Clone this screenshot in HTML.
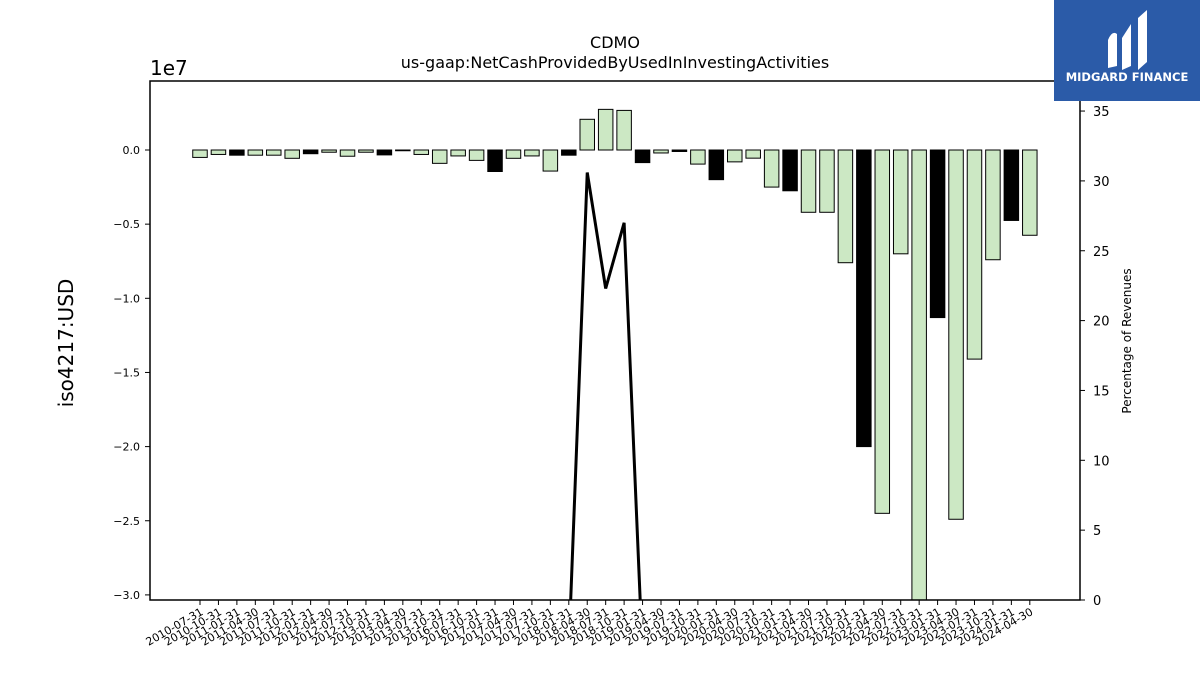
<!DOCTYPE html>
<html><head><meta charset="utf-8"><style>
body{margin:0;background:#fff;font-family:"Liberation Sans","DejaVu Sans",sans-serif}
svg text{font-family:"DejaVu Sans","Liberation Sans",sans-serif}
</style></head><body>
<svg id="c" width="1200" height="675" viewBox="0 0 1200 675">
<defs><clipPath id="pc"><rect x="150" y="81" width="930" height="519"/></clipPath></defs>
<text x="615" y="48" font-size="16" text-anchor="middle">CDMO</text>
<text x="615" y="68" font-size="16" text-anchor="middle">us-gaap:NetCashProvidedByUsedInInvestingActivities</text>
<text x="150" y="75" font-size="20">1e7</text>
<text transform="translate(73,343) rotate(-90)" font-size="20" text-anchor="middle">iso4217:USD</text>
<text transform="translate(1131,341) rotate(-90)" font-size="12" text-anchor="middle">Percentage of Revenues</text>
<g id="bars" clip-path="url(#pc)"></g>
<g id="line" clip-path="url(#pc)"></g>
<g id="axes"></g>
<rect x="150" y="81" width="930" height="519" fill="none" stroke="#000" stroke-width="1.5"/>
<g>
<rect x="1054" y="0" width="146" height="101" fill="#2b5ba8"/>
<path d="M1108 68 L1108 40 Q1112 30 1117 34 L1117 66 Z M1122 70 L1122 38 L1131 24 L1131 66 Z M1138 70 L1138 18 L1147 10 L1147 62 Z" fill="#fff"/>
<text x="1127" y="81" font-size="11.5" font-weight="bold" fill="#fff" text-anchor="middle">MIDGARD FINANCE</text>
</g>
</svg>
<script>
const categories=["2010-07-31","2010-10-31","2011-01-31","2011-04-30","2011-07-31","2011-10-31","2012-01-31","2012-04-30","2012-07-31","2012-10-31","2013-01-31","2013-04-30","2013-07-31","2013-10-31","2016-07-31","2016-10-31","2017-01-31","2017-04-30","2017-07-31","2017-10-31","2018-01-31","2018-04-30","2018-07-31","2018-10-31","2019-01-31","2019-04-30","2019-07-31","2019-10-31","2020-01-31","2020-04-30","2020-07-31","2020-10-31","2021-01-31","2021-04-30","2021-07-31","2021-10-31","2022-01-31","2022-04-30","2022-07-31","2022-10-31","2023-01-31","2023-04-30","2023-07-31","2023-10-31","2024-01-31","2024-04-30"];
const cashValues=[-0.5e6,-0.3e6,-0.35e6,-0.35e6,-0.35e6,-0.56e6,-0.25e6,-0.15e6,-0.42e6,-0.15e6,-0.33e6,-0.05e6,-0.3e6,-0.9e6,-0.4e6,-0.7e6,-1.45e6,-0.56e6,-0.4e6,-1.42e6,-0.35e6,2.07e6,2.74e6,2.67e6,-0.85e6,-0.2e6,-0.1e6,-0.95e6,-2.0e6,-0.8e6,-0.55e6,-2.5e6,-2.75e6,-4.2e6,-4.2e6,-7.6e6,-20.0e6,-24.5e6,-7.0e6,-35e6,-11.3e6,-24.9e6,-14.1e6,-7.4e6,-4.75e6,-5.75e6];
const highlighted=[0,0,1,0,0,0,1,0,0,0,1,1,0,0,0,0,1,0,0,0,1,0,0,0,1,0,1,0,1,0,0,0,1,0,0,0,1,0,0,0,1,0,0,0,1,0];
const pctValues=[null,null,null,null,null,null,null,null,null,null,null,null,null,null,null,null,null,null,null,null,-3.5,30.6,22.3,27.0,-4,null,null,null,null,null,null,null,null,null,null,null,null,null,null,null,null,null,null,null,null,null];
const yTicks=[0,-0.5,-1.0,-1.5,-2.0,-2.5,-3.0];
const yTickLabels=["0.0","\u22120.5","\u22121.0","\u22121.5","\u22122.0","\u22122.5","\u22123.0"];
const rTicks=[0,5,10,15,20,25,30,35];

const NS="http://www.w3.org/2000/svg";
const X0=200,DX=18.44,BW=14.5;
const xs=i=>X0+DX*i;
const yL=v=>150-(v/1e7)*148.3;
const yR=v=>600-v*13.97;
function mk(t,a,p){const e=document.createElementNS(NS,t);for(const k in a)e.setAttribute(k,a[k]);p.appendChild(e);return e;}
const gb=document.getElementById('bars'),gl=document.getElementById('line'),ga=document.getElementById('axes');
cashValues.forEach((v,i)=>{
 const y0=yL(0),y1=yL(v);
 const r=mk('rect',{x:xs(i)-BW/2,y:Math.min(y0,y1),width:BW,height:Math.max(0.5,Math.abs(y1-y0)),fill:highlighted[i]?'#000':'#cce8c4',stroke:'#000','stroke-width':1},gb);
 
 
});
let d='';pctValues.forEach((v,i)=>{if(v===null)return;d+=(d?'L':'M')+xs(i)+' '+yR(v)+' ';});
const ln=mk('path',{d:d,fill:'none',stroke:'#000','stroke-width':3},gl);


yTicks.forEach((t,i)=>{
 const y=yL(t*1e7);
 mk('line',{x1:145,x2:150,y1:y,y2:y,stroke:'#000'},ga);
 const tx=mk('text',{x:140,y:y+4,'font-size':11,'text-anchor':'end'},ga);tx.textContent=yTickLabels[i];
 
 
});
rTicks.forEach(t=>{
 const y=yR(t);
 mk('line',{x1:1080,x2:1085,y1:y,y2:y,stroke:'#000'},ga);
 const tx=mk('text',{x:1093,y:y+5,'font-size':13},ga);tx.textContent=t;
 
 
});
categories.forEach((c,i)=>{
 const x=xs(i);
 mk('line',{x1:x,x2:x,y1:600,y2:605,stroke:'#000'},ga);
 const tx=mk('text',{transform:`translate(${x+4},${614}) rotate(-30)`,'font-size':11,'text-anchor':'end'},ga);tx.textContent=c;
 
 
});
</script>
</body></html>
